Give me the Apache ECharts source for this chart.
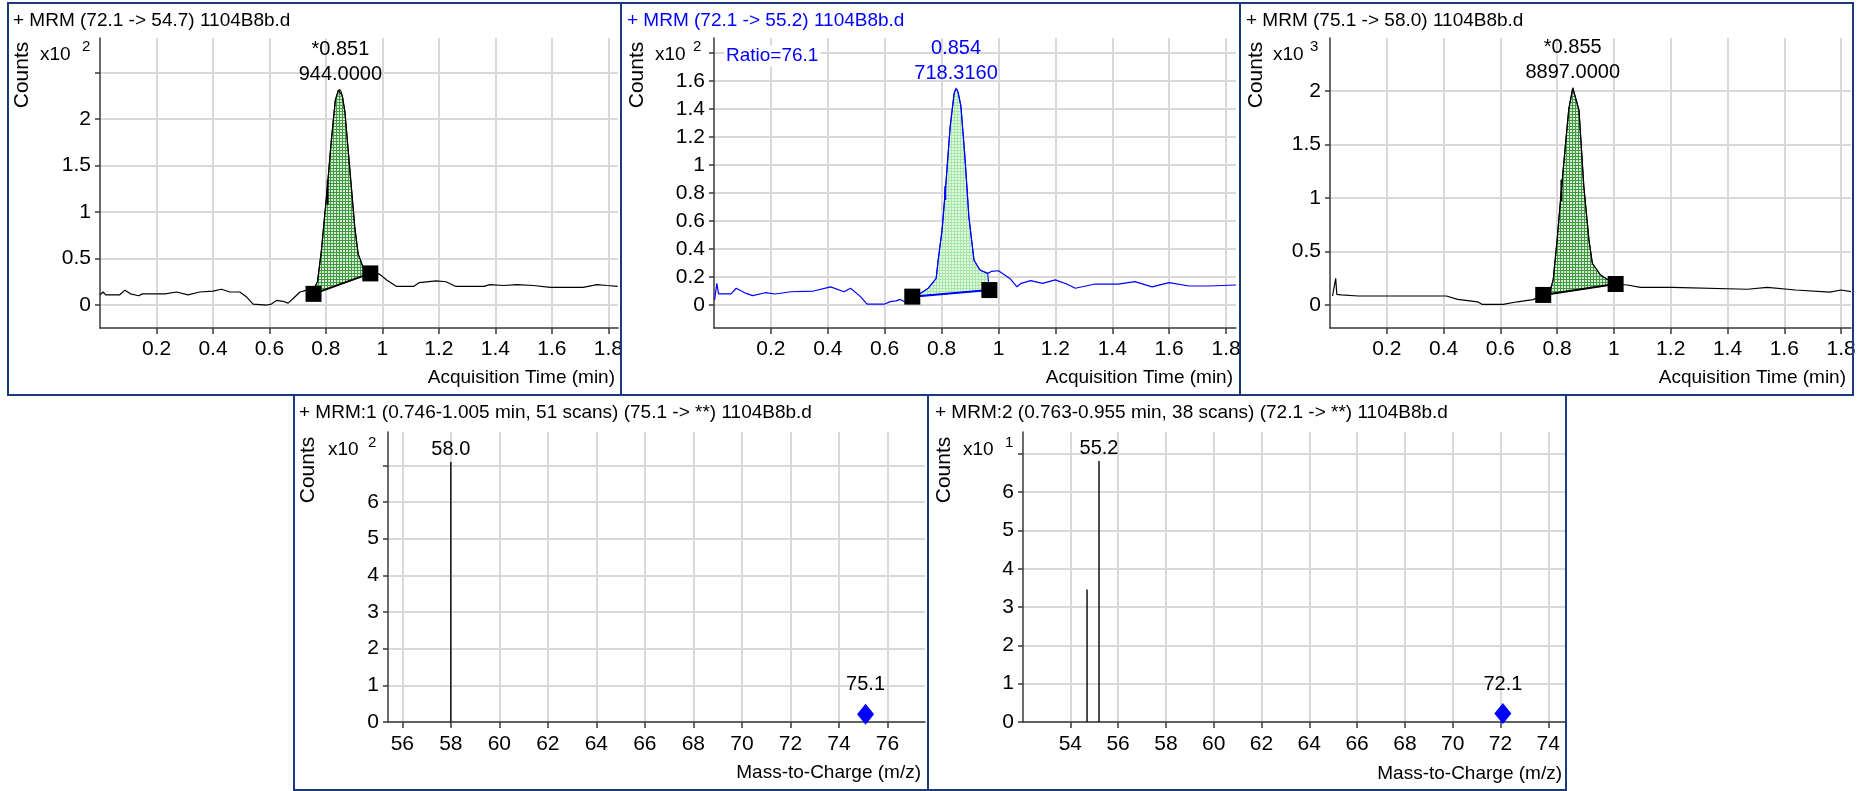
<!DOCTYPE html>
<html>
<head>
<meta charset="utf-8">
<title>MRM chromatograms and spectra</title>
<script src="https://cdn.jsdelivr.net/npm/echarts@6.0.0/dist/echarts.min.js"></script>
<style>
  html, body { margin: 0; padding: 0; background: #ffffff; }
  #main { width: 1861px; height: 791px; }
</style>
</head>
<body>
<div id="main"></div>
<script>
"use strict";

const FONT = '"Liberation Sans", Arial, sans-serif';
const BLACK = '#000000';
const BLUE = '#0000ff';
const BORDER = '#1b3a7e';

// ---- chromatogram 1: MRM (72.1 -> 54.7), counts x10^2
const c1Time = [0.000, 0.011, 0.020, 0.070, 0.088, 0.108, 0.137, 0.150, 0.230, 0.236, 0.271, 0.312, 0.353, 0.400,
  0.430, 0.460, 0.495, 0.518, 0.542, 0.590, 0.607, 0.625, 0.648, 0.666, 0.684, 0.708, 0.720, 0.740, 0.756, 0.763,
  0.770, 0.784, 0.805, 0.819, 0.833, 0.844, 0.851, 0.858, 0.867, 0.884, 0.902, 0.914, 0.931, 0.950, 0.975, 0.990,
  1.015, 1.050, 1.110, 1.130, 1.190, 1.225, 1.260, 1.305, 1.360, 1.380, 1.430, 1.476, 1.535, 1.594, 1.650, 1.710,
  1.760, 1.795, 1.833];
const c1Counts = [0.11, 0.14, 0.11, 0.11, 0.16, 0.12, 0.10, 0.12, 0.12, 0.13, 0.14, 0.11, 0.14, 0.15,
  0.17, 0.14, 0.14, 0.09, 0.01, 0.00, 0.01, 0.05, 0.04, 0.02, 0.07, 0.14, 0.15, 0.17, 0.16, 0.21,
  0.25, 0.59, 1.27, 1.77, 2.20, 2.31, 2.32, 2.25, 2.08, 1.48, 0.84, 0.55, 0.41, 0.36, 0.35, 0.33,
  0.27, 0.20, 0.20, 0.24, 0.26, 0.25, 0.20, 0.20, 0.20, 0.22, 0.21, 0.22, 0.21, 0.19, 0.19, 0.19,
  0.22, 0.21, 0.20];
const c1MarkTime = [0.756, 0.957];
const c1MarkCounts = [0.12, 0.34];
const c1Tick = [[0.806, 1.08], [0.806, 1.34]];
const c1Label = ['*0.851', '944.0000'];
const c1YTicks = [0, 0.5, 1, 1.5, 2, 2.5];

// ---- chromatogram 2: MRM (72.1 -> 55.2), counts x10^2
const c2Time = [0.002, 0.010, 0.016, 0.060, 0.078, 0.113, 0.136, 0.180, 0.215, 0.270, 0.350, 0.410, 0.457, 0.480,
  0.515, 0.538, 0.600, 0.620, 0.640, 0.655, 0.676, 0.697, 0.725, 0.753, 0.781, 0.788, 0.802, 0.816, 0.830, 0.844,
  0.851, 0.858, 0.868, 0.882, 0.896, 0.914, 0.935, 0.962, 0.975, 1.000, 1.040, 1.065, 1.080, 1.113, 1.155, 1.200,
  1.240, 1.270, 1.340, 1.420, 1.480, 1.540, 1.600, 1.670, 1.740, 1.835];
const c2Counts = [0.036, 0.155, 0.079, 0.079, 0.12, 0.083, 0.067, 0.088, 0.079, 0.095, 0.10, 0.13, 0.095, 0.12,
  0.06, 0.007, 0.007, 0.024, 0.03, 0.04, 0.017, 0.06, 0.083, 0.12, 0.19, 0.32, 0.54, 0.89, 1.27, 1.51,
  1.55, 1.52, 1.42, 1.06, 0.63, 0.32, 0.25, 0.226, 0.24, 0.245, 0.19, 0.13, 0.155, 0.174, 0.155, 0.18,
  0.15, 0.12, 0.15, 0.15, 0.167, 0.13, 0.16, 0.136, 0.136, 0.143];
const c2MarkTime = [0.697, 0.968];
const c2MarkCounts = [0.06, 0.107];
const c2Tick = [[0.813, 0.75], [0.813, 0.85]];
const c2Label = ['0.854', '718.3160'];
const c2YTicks = [0, 0.2, 0.4, 0.6, 0.8, 1, 1.2, 1.4, 1.6, 1.8];

// ---- chromatogram 3: MRM (75.1 -> 58.0), counts x10^3
const c3Time = [0.009, 0.016, 0.020, 0.024, 0.040, 0.100, 0.410, 0.450, 0.520, 0.535, 0.610, 0.660, 0.715, 0.751,
  0.775, 0.786, 0.800, 0.816, 0.830, 0.841, 0.855, 0.877, 0.894, 0.912, 0.924, 0.953, 0.988, 1.006, 1.047, 1.094,
  1.195, 1.200, 1.205, 1.470, 1.540, 1.640, 1.760, 1.800, 1.835];
const c3Counts = [0.084, 0.09, 0.25, 0.10, 0.094, 0.084, 0.084, 0.053, 0.030, 0.006, 0.006, 0.030, 0.050, 0.094,
  0.13, 0.234, 0.61, 1.11, 1.52, 1.83, 2.03, 1.82, 1.11, 0.61, 0.39, 0.28, 0.22, 0.196, 0.187, 0.165,
  0.165, 0.15, 0.165, 0.147, 0.165, 0.14, 0.12, 0.14, 0.125];
const c3MarkTime = [0.751, 1.006];
const c3MarkCounts = [0.094, 0.196];
const c3Tick = [[0.815, 0.97], [0.815, 1.17]];
const c3Label = ['*0.855', '8897.0000'];
const c3YTicks = [0, 0.5, 1, 1.5, 2, 2.5];

const rtTicks = [0.2, 0.4, 0.6, 0.8, 1, 1.2, 1.4, 1.6, 1.8];

// ---- product ion spectrum 1: MRM:1 (75.1 -> **), counts x10^2
const s1Mz = [58.0];
const s1Counts = [7.09];
const s1Labels = ['58.0'];
const s1PrecMz = [75.1];
const s1PrecCounts = [0.21];
const s1XTicks = [56, 58, 60, 62, 64, 66, 68, 70, 72, 74, 76];

// ---- product ion spectrum 2: MRM:2 (72.1 -> **), counts x10^1
const s2Mz = [54.7, 55.2];
const s2Counts = [3.46, 6.81];
const s2Labels = ['', '55.2'];
const s2PrecMz = [72.1];
const s2PrecCounts = [0.22];
const s2XTicks = [54, 56, 58, 60, 62, 64, 66, 68, 70, 72, 74];

const specYTicks = [0, 1, 2, 3, 4, 5, 6, 7];

// hatched fill like the integrated peak areas
function hatch(bg, line) {
  const c = document.createElement('canvas');
  c.width = 3;
  c.height = 3;
  const g = c.getContext('2d');
  g.fillStyle = bg;
  g.fillRect(0, 0, 3, 3);
  g.fillStyle = line;
  g.fillRect(0, 0, 3, 1);
  g.fillRect(0, 0, 1, 3);
  return { image: c, repeat: 'repeat' };
}

function fmt(v) {
  return String(Math.round(v * 100) / 100);
}

function axisParts(ticks, labels, tickLen, margin) {
  return {
    axisLine: { show: true, onZero: false, lineStyle: { color: '#3a3a3a', width: 1.5 } },
    axisTick: { show: true, length: tickLen, customValues: ticks, lineStyle: { color: '#3a3a3a', width: 1.5 } },
    axisLabel: { show: true, customValues: labels, margin: margin, color: BLACK, fontFamily: FONT, fontSize: 21, formatter: fmt },
    splitLine: { show: true, lineStyle: { color: '#d9d9d9', width: 2 } }
  };
}

const grids = [], xAxes = [], yAxes = [], series = [], graphics = [];

function addChrom(idx, L, d) {
  grids.push({ left: L.left, top: L.top, width: L.width, height: L.height, outerBoundsMode: 'none' });
  xAxes.push(Object.assign({ gridIndex: idx, type: 'value', min: 0, max: L.xMax }, axisParts(rtTicks, rtTicks, 6, 11)));
  yAxes.push(Object.assign({ gridIndex: idx, type: 'value', min: L.yMin, max: L.yMax },
    axisParts(d.yTicks, d.yTicks.slice(0, -1), 5, 9)));

  const pts = d.time.map((t, k) => [t, d.counts[k]]);
  const m0 = [d.markTime[0], d.markCounts[0]];
  const m1 = [d.markTime[1], d.markCounts[1]];
  const poly = [m0].concat(pts.filter(p => p[0] > m0[0] && p[0] < m1[0]), [m1]);
  const apex = pts.reduce((a, b) => (b[1] > a[1] ? b : a));

  series.push({
    type: 'custom', xAxisIndex: idx, yAxisIndex: idx, data: [m0], z: 2, silent: true,
    renderItem: function (params, api) {
      return {
        type: 'polygon',
        shape: { points: poly.map(p => api.coord(p)) },
        style: { fill: d.fill, stroke: d.color, lineWidth: 1 }
      };
    }
  });
  series.push({
    type: 'line', xAxisIndex: idx, yAxisIndex: idx, data: pts, showSymbol: false, z: 3,
    lineStyle: { color: d.color, width: 1.2 }, silent: true
  });
  series.push({
    type: 'line', xAxisIndex: idx, yAxisIndex: idx, data: d.tick, showSymbol: false, z: 3,
    lineStyle: { color: d.color, width: 2 }, silent: true
  });
  series.push({
    type: 'line', xAxisIndex: idx, yAxisIndex: idx, data: [m0, m1], symbol: 'rect', symbolSize: 16,
    showSymbol: true, z: 4, itemStyle: { color: BLACK, opacity: 1 }, lineStyle: { color: d.color, width: 2 }, silent: true
  });
  series.push({
    type: 'scatter', xAxisIndex: idx, yAxisIndex: idx, data: [apex], symbolSize: 1, z: 5,
    itemStyle: { color: '#ffffff', opacity: 1 }, silent: true,
    label: {
      show: true, position: 'top', distance: 2, formatter: d.label.join('\n'),
      color: d.color, fontFamily: FONT, fontSize: 20, lineHeight: 25
    }
  });
}

function addSpec(idx, L, d) {
  grids.push({ left: L.left, top: L.top, width: L.width, height: L.height, outerBoundsMode: 'none' });
  xAxes.push(Object.assign({ gridIndex: idx, type: 'value', min: L.xMin, max: L.xMax }, axisParts(d.xTicks, d.xTicks, 6, 12)));
  yAxes.push(Object.assign({ gridIndex: idx, type: 'value', min: 0, max: L.yMax },
    axisParts(specYTicks, specYTicks.slice(0, -1), 5, 9)));

  series.push({
    type: 'bar', xAxisIndex: idx, yAxisIndex: idx, barWidth: 1.5, z: 3, silent: true,
    itemStyle: { color: '#111111', opacity: 1 },
    label: { position: 'top', distance: 3, color: BLACK, fontFamily: FONT, fontSize: 20 },
    data: d.mz.map((m, k) => ({
      value: [m, d.counts[k]],
      label: { show: d.labels[k] !== '', formatter: d.labels[k] }
    }))
  });
  series.push({
    type: 'scatter', xAxisIndex: idx, yAxisIndex: idx, symbol: 'diamond', symbolSize: [17, 21], z: 4,
    itemStyle: { color: BLUE, opacity: 1 }, silent: true,
    label: { show: true, position: 'top', distance: 9, color: BLACK, fontFamily: FONT, fontSize: 20, formatter: d.precLabel },
    data: d.precMz.map((m, k) => [m, d.precCounts[k]])
  });
}

addChrom(0, { left: 100, top: 38, width: 518, height: 290, xMax: 1.834, yMin: -0.247, yMax: 2.871 },
  { time: c1Time, counts: c1Counts, markTime: c1MarkTime, markCounts: c1MarkCounts, tick: c1Tick,
    label: c1Label, yTicks: c1YTicks, color: BLACK, fill: hatch('#d6ecd6', '#3f9a3f') });
addChrom(1, { left: 714, top: 38, width: 522, height: 290, xMax: 1.835, yMin: -0.164, yMax: 1.907 },
  { time: c2Time, counts: c2Counts, markTime: c2MarkTime, markCounts: c2MarkCounts, tick: c2Tick,
    label: c2Label, yTicks: c2YTicks, color: BLUE, fill: hatch('#e2f8e2', '#a6e6a6') });
addChrom(2, { left: 1330, top: 38, width: 521, height: 290, xMax: 1.835, yMin: -0.215, yMax: 2.495 },
  { time: c3Time, counts: c3Counts, markTime: c3MarkTime, markCounts: c3MarkCounts, tick: c3Tick,
    label: c3Label, yTicks: c3YTicks, color: BLACK, fill: hatch('#d6ecd6', '#3f9a3f') });
addSpec(3, { left: 388, top: 432, width: 537, height: 290, xMin: 55.41, xMax: 77.55, yMax: 7.91 },
  { mz: s1Mz, counts: s1Counts, labels: s1Labels, precMz: s1PrecMz, precCounts: s1PrecCounts,
    precLabel: '75.1', xTicks: s1XTicks });
addSpec(4, { left: 1023, top: 432, width: 542, height: 290, xMin: 52.02, xMax: 74.7, yMax: 7.57 },
  { mz: s2Mz, counts: s2Counts, labels: s2Labels, precMz: s2PrecMz, precCounts: s2PrecCounts,
    precLabel: '72.1', xTicks: s2XTicks });

// panel frames and texts
const panels = [
  { box: [8, 3, 613, 392], title: '+ MRM (72.1 -> 54.7) 1104B8b.d', tx: 13, ty: 21, color: BLACK,
    counts: [22, 75], x10: [40, 55], exp: '2', ex: [82, 47], xName: 'Acquisition Time (min)', nx: 615, ny: 378 },
  { box: [621, 3, 619, 392], title: '+ MRM (72.1 -> 55.2) 1104B8b.d', tx: 627, ty: 21, color: BLUE,
    counts: [637, 75], x10: [655, 55], exp: '2', ex: [693, 47], xName: 'Acquisition Time (min)', nx: 1233, ny: 378 },
  { box: [1240, 3, 613, 392], title: '+ MRM (75.1 -> 58.0) 1104B8b.d', tx: 1246, ty: 21, color: BLACK,
    counts: [1256, 75], x10: [1273, 55], exp: '3', ex: [1310, 47], xName: 'Acquisition Time (min)', nx: 1846, ny: 378 },
  { box: [294, 395, 634, 395], title: '+ MRM:1 (0.746-1.005 min, 51 scans) (75.1 -> **) 1104B8b.d', tx: 299, ty: 413, color: BLACK,
    counts: [308, 470], x10: [328, 450], exp: '2', ex: [368, 443], xName: 'Mass-to-Charge (m/z)', nx: 921, ny: 773 },
  { box: [928, 395, 638, 395], title: '+ MRM:2 (0.763-0.955 min, 38 scans) (72.1 -> **) 1104B8b.d', tx: 935, ty: 413, color: BLACK,
    counts: [944, 470], x10: [963, 450], exp: '1', ex: [1005, 443], xName: 'Mass-to-Charge (m/z)', nx: 1562, ny: 774 }
];

panels.forEach(p => {
  graphics.push({ type: 'rect', shape: { x: p.box[0], y: p.box[1], width: p.box[2], height: p.box[3] },
    style: { fill: 'none', stroke: BORDER, lineWidth: 2 }, z: 10, silent: true });
  graphics.push({ type: 'text', x: p.tx, y: p.ty, silent: true,
    style: { text: p.title, fill: p.color, font: '19px ' + FONT, align: 'left', verticalAlign: 'middle' } });
  graphics.push({ type: 'text', x: p.counts[0], y: p.counts[1], rotation: Math.PI / 2, silent: true,
    style: { text: 'Counts', fill: BLACK, font: '21px ' + FONT, align: 'center', verticalAlign: 'middle' } });
  graphics.push({ type: 'text', x: p.x10[0], y: p.x10[1], silent: true,
    style: { text: 'x10', fill: BLACK, font: '19px ' + FONT, align: 'left', verticalAlign: 'middle' } });
  graphics.push({ type: 'text', x: p.ex[0], y: p.ex[1], silent: true,
    style: { text: p.exp, fill: BLACK, font: '15px ' + FONT, align: 'left', verticalAlign: 'middle' } });
  graphics.push({ type: 'text', x: p.nx, y: p.ny, silent: true,
    style: { text: p.xName, fill: BLACK, font: '19px ' + FONT, align: 'right', verticalAlign: 'middle' } });
});
graphics.push({ type: 'text', x: 724, y: 56, silent: true, z: 5,
  style: { text: 'Ratio=76.1', fill: BLUE, font: '19px ' + FONT, align: 'left', verticalAlign: 'middle',
    backgroundColor: '#ffffff', padding: [1, 2] } });

const chart = echarts.init(document.getElementById('main'));
chart.setOption({
  backgroundColor: '#ffffff',
  animation: false,
  textStyle: { fontFamily: FONT },
  grid: grids,
  xAxis: xAxes,
  yAxis: yAxes,
  series: series,
  graphic: graphics
});
</script>
</body>
</html>
